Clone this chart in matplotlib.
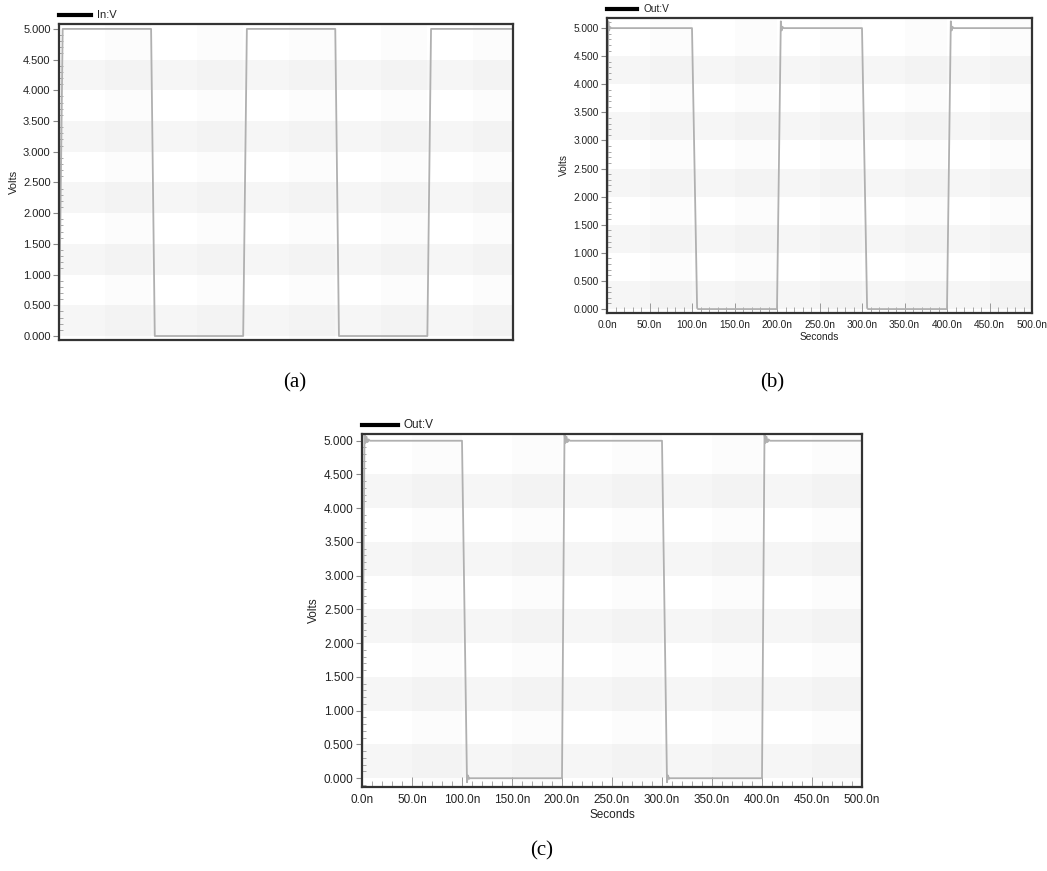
import matplotlib
matplotlib.use("Agg")
import matplotlib.pyplot as plt
from matplotlib.ticker import MultipleLocator, FormatStrFormatter, FuncFormatter

W, H = 1047, 871

# ---- data ----
a_label = "In:V"
a_t = [0, 4, 100, 104, 200, 204, 300, 304, 400, 404, 495]
a_v = [0, 5.0, 5.0, 0.0, 0.0, 5.0, 5.0, 0.0, 0.0, 5.0, 5.0]

b_label = "Out:V"
b_t = [0, 1.5, 2.5, 3.5, 5, 100, 106, 107, 200, 204.5, 205.5, 206.5, 208,
       300, 306, 307, 400, 404.5, 405.5, 406.5, 408, 500]
b_v = [0, 5.12, 4.96, 5.02, 5.0, 5.0, 0.02, 0.0, 0.0, 5.12, 4.96, 5.02, 5.0,
       5.0, 0.02, 0.0, 0.0, 5.12, 4.96, 5.02, 5.0, 5.0]

c_label = "Out:V"
c_t = [0, 2.5, 3.5, 4.5, 5.5, 6.5, 8, 100, 105, 106, 107, 108, 200, 202.5,
       203.5, 204.5, 205.5, 206.5, 208, 300, 305, 306, 307, 308, 400, 402.5,
       403.5, 404.5, 405.5, 406.5, 408, 500]
c_v = [0, 5.1, 4.97, 5.06, 4.98, 5.02, 5.0, 5.0, -0.06, 0.04, -0.01, 0.0, 0.0,
       5.1, 4.97, 5.06, 4.98, 5.02, 5.0, 5.0, -0.06, 0.04, -0.01, 0.0, 0.0,
       5.1, 4.97, 5.06, 4.98, 5.02, 5.0, 5.0]

y_ticks = [0, 0.5, 1, 1.5, 2, 2.5, 3, 3.5, 4, 4.5, 5]
x_ticks = [0, 50, 100, 150, 200, 250, 300, 350, 400, 450, 500]

plt.rcParams['font.family'] = ['Liberation Sans', 'DejaVu Sans']

fig = plt.figure(figsize=(W / 100, H / 100), dpi=100)


def px_axes(l, r, t, b):
    return [l / W, 1 - b / H, (r - l) / W, (b - t) / H]


def panel(rect, t, v, label, xlim, ylim, fs, show_x, leg_len, xlpad):
    ax = fig.add_axes(rect)
    ax.set_facecolor('white')
    # alternating bands
    for i in range(0, 10, 2):
        ax.axhspan(y_ticks[i], y_ticks[i + 1], color='#f6f6f6', lw=0, zorder=0)
    for x0 in range(0, 500, 100):
        ax.axvspan(x0 + 50, x0 + 100, color='#000000', alpha=0.01, lw=0, zorder=0)
    ax.plot(t, v, color='#b0b0b0', lw=1.3, zorder=2)
    ax.set_xlim(*xlim)
    ax.set_ylim(*ylim)
    for s in ax.spines.values():
        s.set_color('#333333')
        s.set_linewidth(1.6)
    ax.set_yticks(y_ticks)
    ax.yaxis.set_major_formatter(FormatStrFormatter('%.3f'))
    ax.yaxis.set_minor_locator(MultipleLocator(0.1))
    ax.tick_params(axis='y', which='major', direction='out', length=4,
                   width=0.8, color='#888888', labelsize=fs, labelcolor='#222222', pad=2)
    ax.tick_params(axis='y', which='minor', direction='in', length=3,
                   width=0.6, color='#999999')
    if show_x:
        ax.set_xticks(x_ticks)
        ax.xaxis.set_major_formatter(FuncFormatter(lambda x, p: f"{x:.1f}n"))
        ax.xaxis.set_minor_locator(MultipleLocator(10))
        ax.tick_params(axis='x', which='major', direction='in', length=7,
                       width=0.7, color='#999999', labelsize=fs, labelcolor='#222222', pad=5)
        ax.tick_params(axis='x', which='minor', direction='in', length=4,
                       width=0.6, color='#999999')
        ax.set_xlabel('Seconds', fontsize=fs, color='#222222', labelpad=xlpad)
    else:
        ax.set_xticks([])
    ax.set_ylabel('Volts', fontsize=fs, color='#222222', labelpad=3)
    # legend-like header
    pos = ax.get_position()
    ly = pos.y1 + 9 / H
    fig.add_artist(plt.Line2D([pos.x0, pos.x0 + leg_len / W], [ly, ly],
                              color='black', lw=3, transform=fig.transFigure))
    fig.text(pos.x0 + (leg_len + 6) / W, ly, label, fontsize=fs,
             va='center', ha='left', color='#222222')
    return ax


panel(px_axes(59, 513, 24, 340), a_t, a_v, a_label, (0, 493), (-0.065, 5.08), 8, False, 32, 0)
panel(px_axes(607, 1032, 18, 313), b_t, b_v, b_label, (0, 500), (-0.07, 5.18), 7.3, True, 30, 1.5)
panel(px_axes(362, 862, 434, 787), c_t, c_v, c_label, (0, 500), (-0.13, 5.1), 8.5, True, 36, 2)

cap = dict(fontsize=15, family=['Liberation Serif', 'DejaVu Serif'], ha='center', va='center')
fig.text(295 / W, 1 - 383 / H, '(a)', **cap)
fig.text(772 / W, 1 - 383 / H, '(b)', **cap)
fig.text(542 / W, 1 - 851 / H, '(c)', **cap)

fig.savefig('out.png', dpi=100, facecolor='white')
